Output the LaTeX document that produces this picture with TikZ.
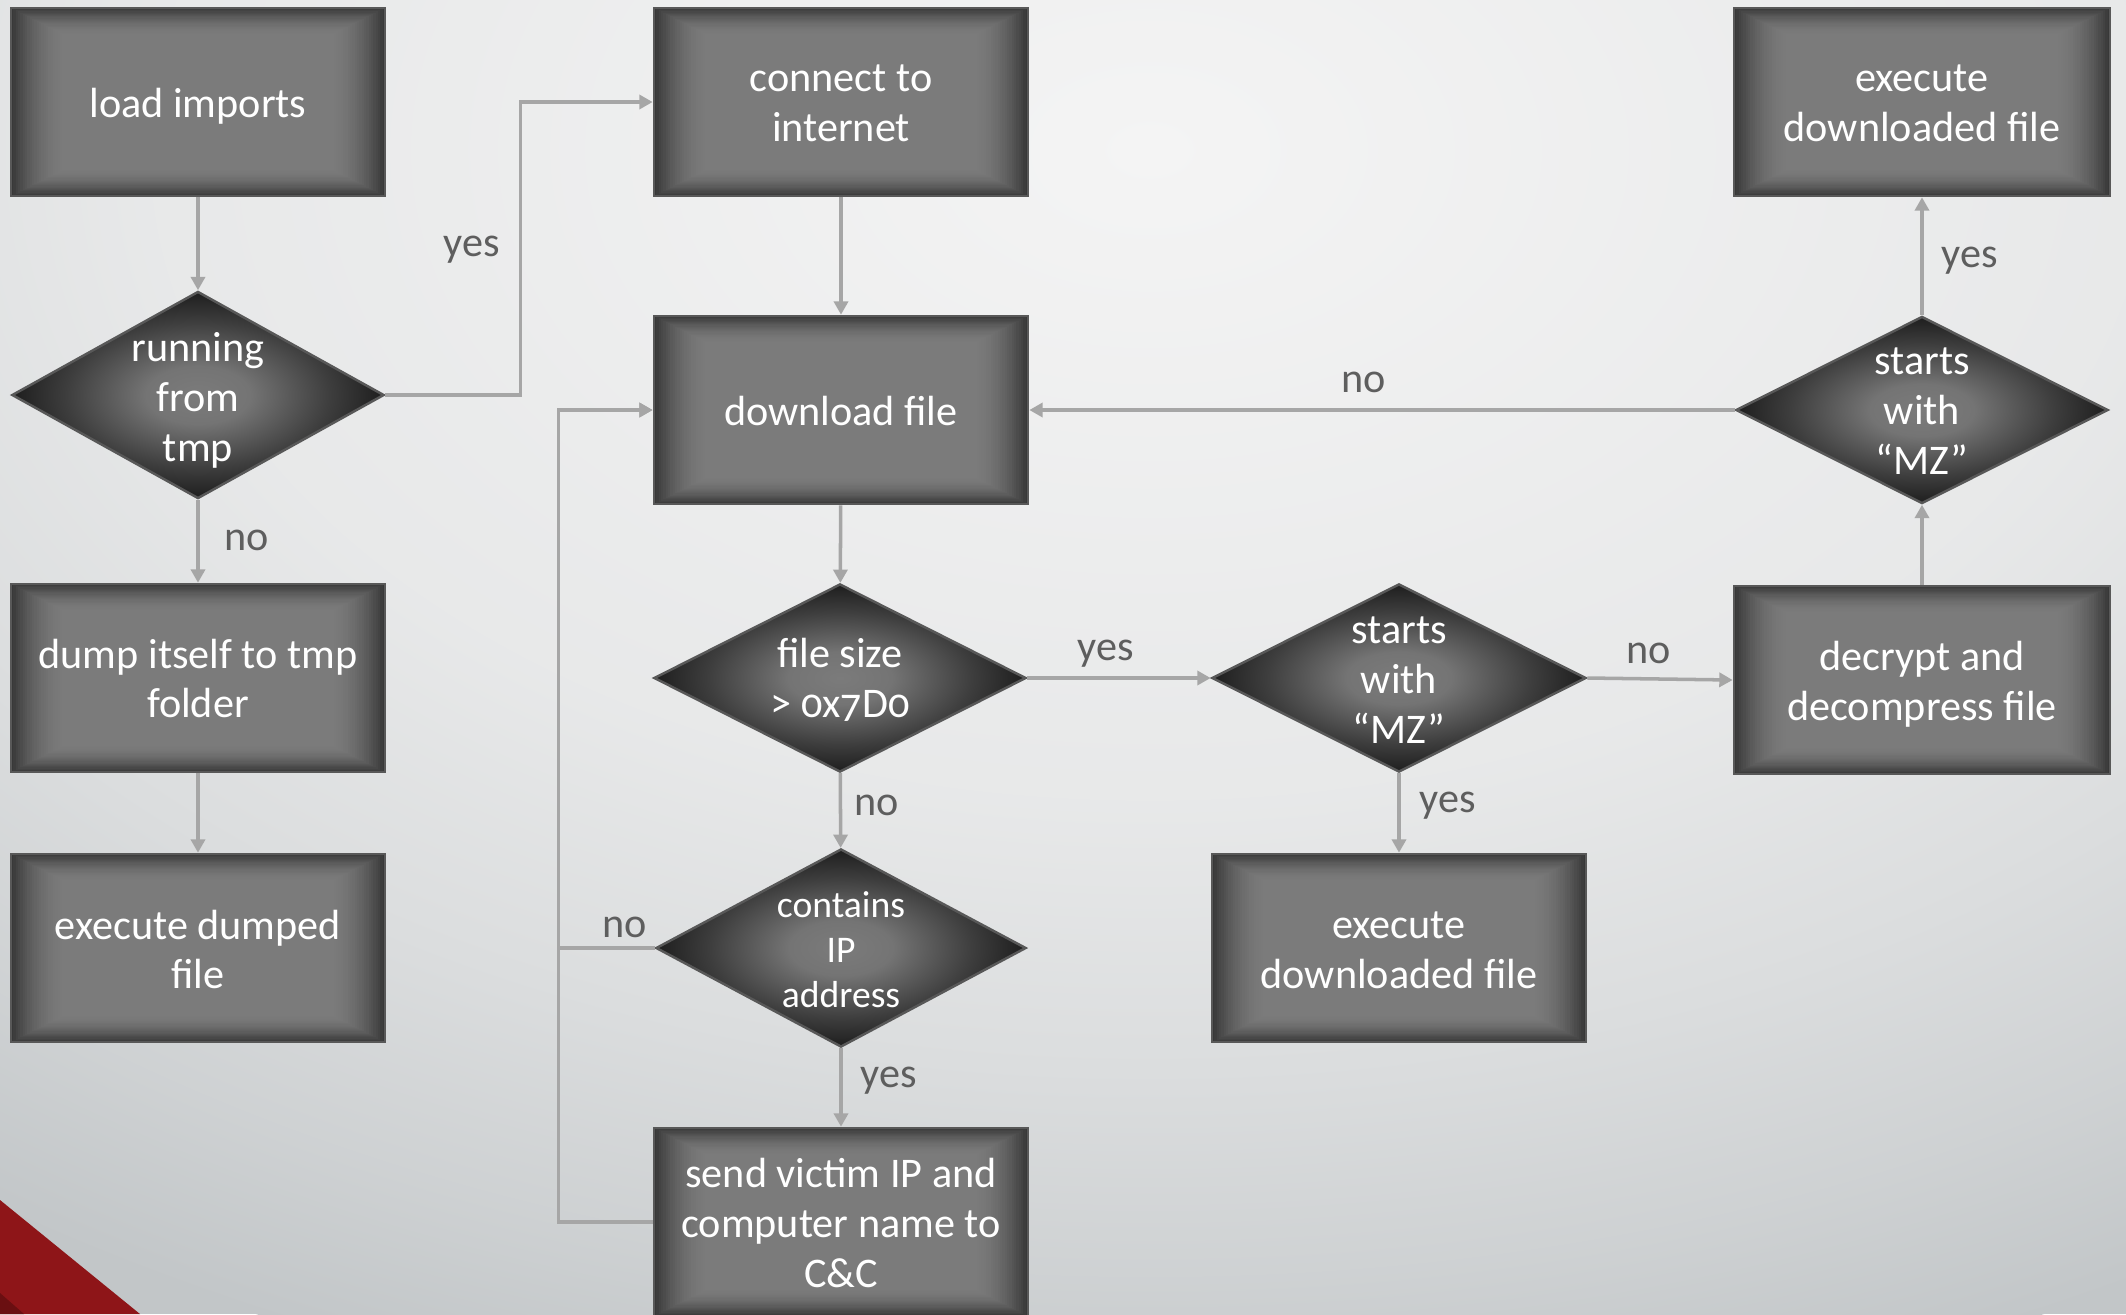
\documentclass[tikz,border=0pt]{standalone}
\usepackage{fontspec}
\setmainfont{Carlito}[Numbers=OldStyle]
\usetikzlibrary{shapes.geometric,arrows.meta,calc}

% palette
\definecolor{bgL}{HTML}{F4F4F4}
\definecolor{bgD}{HTML}{C2C6C8}
\colorlet{bgQa}{bgL!75!bgD}
\colorlet{bgQb}{bgL!50!bgD}
\colorlet{bgQc}{bgL!25!bgD}
\definecolor{rimlight}{HTML}{7B7B7B}
\definecolor{rimdark}{HTML}{383838}
\definecolor{bxB}{HTML}{747474}
\definecolor{dmC}{HTML}{3E3E3E}
\definecolor{dmD}{HTML}{1E1E1E}
\definecolor{boxline}{HTML}{585858}
\definecolor{linegray}{HTML}{A6A6A6}
\definecolor{lblgray}{HTML}{5E5E5E}
\definecolor{cornerred}{HTML}{8E1518}
\definecolor{cornerdark}{HTML}{6A0F11}

% page background: light near the top, greyer towards the edges
\pgfdeclareradialshading{bgshade}{\pgfpoint{0bp}{0bp}}{%
  color(0bp)=(bgL); color(12.5bp)=(bgQa); color(17.68bp)=(bgQb);
  color(21.65bp)=(bgQc); color(25bp)=(bgD); color(50bp)=(bgD)}
% decisions: darkest at the tips
\pgfdeclareradialshading{diashade}{\pgfpoint{0bp}{0bp}}{%
  color(0bp)=(rimlight); color(7bp)=(bxB); color(17.7bp)=(dmC);
  color(25bp)=(dmD); color(50bp)=(dmD)}

\begin{document}
\begin{tikzpicture}[
  x=0.01cm, y=-0.01cm,
  font=\fontsize{12}{14.2}\selectfont,
  % process boxes: rectangular gradient, flat centre and darker rim
  rimfill/.style={path picture={
    \foreach \i in {0,...,24}{
      \pgfmathsetmacro\bxT{1-\i*0.3/24}
      \pgfmathsetmacro\bxP{100*((\bxT-0.7)/0.3)^2}
      \fill[rimdark!\bxP!rimlight]
        ($(path picture bounding box.center)!\bxT!(path picture bounding box.south west)$)
        rectangle
        ($(path picture bounding box.center)!\bxT!(path picture bounding box.north east)$);
    }}},
  box/.style={rectangle, draw=boxline, line width=0.7pt, rimfill,
    minimum width=3.74cm, minimum height=1.88cm, inner sep=0pt},
  dia/.style={diamond, draw=boxline, line width=0.7pt, shading=diashade,
    minimum width=3.72cm, inner sep=0pt},
  txt/.style={align=center, text=white, inner sep=0pt},
  flow/.style={draw=linegray, line width=1pt,
    -{Triangle[length=3.8pt,width=4pt]}},
  lbl/.style={text=lblgray, inner sep=0pt},
]
\useasboundingbox (0,0) rectangle (2126,1314);

% background
\begin{scope}
  \clip (0,0) rectangle (2126,1314);
  \fill[bgD] (0,0) rectangle (2126,1314);
  \shade[shading=bgshade] (1150,150) ellipse [x radius=20cm, y radius=13cm];
  \fill[cornerred] (0,1200) -- (140,1314) -- (0,1314) -- cycle;
  \fill[cornerdark] (0,1293) -- (24,1314) -- (0,1314) -- cycle;
\end{scope}

% left column
\node[box] (load) at (198,102) {};
\node[txt] (load-t) at (198,106) {load imports};
\node[dia, minimum height=2.07cm] (run) at (198,395) {};
\node[txt] (run-t) at (198,400.5) {running\\from\\tmp};
\node[box] (dump) at (198,678) {};
\node[txt] (dump-t) at (198,678.5) {dump itself to tmp\\folder};
\node[box] (exdump) at (198,948) {};
\node[txt] (exdump-t) at (198,949.5) {execute dumped\\file};

% middle column
\node[box] (conn) at (841,102) {};
\node[txt] (conn-t) at (841,103.5) {connect to\\internet};
\node[box] (down) at (841,410) {};
\node[txt] (down-t) at (841,410.5) {download file};
\node[dia, minimum height=1.88cm] (size) at (840,678) {};
\node[txt] (size-t) at (840,680) {file size\\> 0x7D0};
\node[dia, minimum height=1.98cm, minimum width=3.70cm] (cip) at (841,948) {};
\node[txt, font=\fontsize{10.7}{12.8}\selectfont] (cip-t) at (841,949.5) {contains\\IP\\address};
\node[box] (send) at (841,1222) {};
\node[txt] (send-t) at (841,1223) {send victim IP and\\computer name to\\C\&C};

% third column
\node[dia, minimum height=1.88cm, minimum width=3.74cm] (mz1) at (1399,678) {};
\node[txt] (mz1-t) at (1399,680) {starts\\with\\“MZ”};
\node[box] (exmid) at (1399,948) {};
\node[txt] (exmid-t) at (1399,950.7) {execute\\downloaded file};

% right column
\node[box, minimum width=3.76cm] (extr) at (1922,102) {};
\node[txt] (extr-t) at (1922,103.5) {execute\\downloaded file};
\node[dia, minimum height=1.87cm] (mz2) at (1922,410) {};
\node[txt] (mz2-t) at (1922,411.5) {starts\\with\\“MZ”};
\node[box, minimum width=3.76cm] (decr) at (1922,680) {};
\node[txt] (decr-t) at (1922,684) {decrypt and\\decompress file};

% connectors
\draw[flow] (load) -- (run);
\draw[flow] (run.east) -- ++(135,0) |- (conn.west);
\draw[flow] (run) -- (dump);
\draw[flow] (dump) -- (exdump);
\draw[flow] (conn) -- (down);
\draw[flow] (down) -- (size);
\draw[flow] (size) -- (mz1);
\draw[flow] (size) -- (cip);
\draw[flow] (cip.west) -- ++(-96,0) |- (down.west);
\draw[flow] (send.west) -- ++(-94,0) |- (down.west);
\draw[flow] (cip) -- (send);
\draw[flow] (mz1.east) -- (decr.west);
\draw[flow] (mz1) -- (exmid);
\draw[flow] (decr) -- (mz2);
\draw[flow] (mz2) -- (extr);
\draw[flow] (mz2.west) -- (down.east);

% branch labels
\node[lbl] (l-run-yes) at (472,250) {yes};
\node[lbl] (l-run-no) at (247,540) {no};
\node[lbl] (l-size-yes) at (1106,654) {yes};
\node[lbl] (l-size-no) at (877,805) {no};
\node[lbl] (l-cip-no) at (625,927) {no};
\node[lbl] (l-cip-yes) at (889,1081) {yes};
\node[lbl] (l-mz1-no) at (1649,653) {no};
\node[lbl] (l-mz1-yes) at (1448,806) {yes};
\node[lbl] (l-mz2-yes) at (1970,261) {yes};
\node[lbl] (l-mz2-no) at (1364,382) {no};
\end{tikzpicture}
\end{document}
